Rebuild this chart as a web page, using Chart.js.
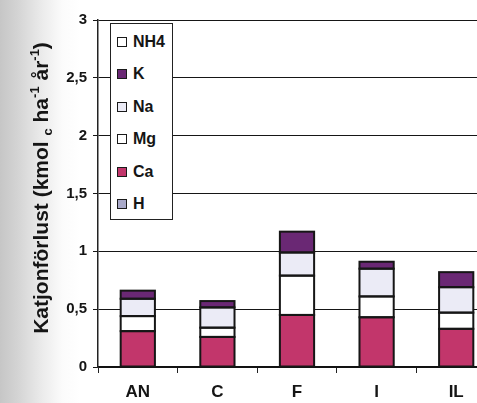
<!DOCTYPE html>
<html>
<head>
<meta charset="utf-8">
<script src="https://cdn.jsdelivr.net/npm/chart.js@4/dist/chart.umd.min.js"></script>
<style>
  html, body { margin: 0; padding: 0; }
  body {
    width: 477px; height: 403px; overflow: hidden; position: relative;
    background: linear-gradient(90deg, #c6c6c6 0px, #d4d4d4 18px, #ebebeb 42px, #fbfbfb 62px, #ffffff 80px);
    font-family: 'Liberation Sans', Arial, sans-serif;
  }
  #wrap { position: absolute; left: 0; top: 0; width: 500px; height: 403px; }
  #legend {
    position: absolute; left: 110px; top: 23px; width: 61px; height: 195px;
    border: 1px solid #222; background: #fff; box-sizing: content-box;
  }
  .item { position: absolute; left: 6px; height: 16px; display: flex; align-items: center;
          font-weight: bold; font-size: 16px; color: #151515; }
  .sw { width: 8px; height: 8px; border: 1.5px solid #1a1a1a; margin-right: 6px; }
</style>
</head>
<body>
<div id="wrap"><canvas id="c" width="500" height="403"></canvas></div>
<div id="legend"></div>
<script>
// ---- data ----
const categories = ['AN', 'C', 'F', 'I', 'IL'];
const seriesNames = ['H', 'Ca', 'Mg', 'Na', 'K', 'NH4']; // stacking order, bottom to top
const H   = [0, 0, 0, 0, 0];
const Ca  = [0.31, 0.26, 0.45, 0.43, 0.33];
const Mg  = [0.13, 0.08, 0.34, 0.18, 0.14];
const Na  = [0.15, 0.175, 0.20, 0.24, 0.22];
const K   = [0.07, 0.055, 0.18, 0.06, 0.13];
const NH4 = [0, 0, 0, 0, 0];
const yTicks = [0, 0.5, 1, 1.5, 2, 2.5, 3];

const seriesValues = { H, Ca, Mg, Na, K, NH4 };
const seriesColors = { H: '#a9a9c9', Ca: '#c2366b', Mg: '#ffffff', Na: '#ebebf6', K: '#6a2874', NH4: '#ffffff' };

const FONT = "'Liberation Sans', Arial, sans-serif";

const datasets = seriesNames.map(n => ({
  label: n,
  data: seriesValues[n],
  backgroundColor: seriesColors[n],
  borderColor: '#000000',
  borderWidth: 0,
  borderSkipped: false,
  inflateAmount: 0,
  categoryPercentage: 1.0,
  barPercentage: 0.43
}));

// outlines each bar segment, using the geometry of the library's bar elements
const outlinePlugin = {
  id: 'outline',
  afterDatasetsDraw(chart) {
    const ctx = chart.ctx;
    ctx.save();
    ctx.strokeStyle = '#161616';
    ctx.lineWidth = 2;
    chart.data.datasets.forEach((ds, di) => {
      const meta = chart.getDatasetMeta(di);
      meta.data.forEach(el => {
        const p = el.getProps(['x', 'y', 'base', 'width'], true);
        const h = Math.abs(p.base - p.y);
        if (h < 0.5) return;
        const top = Math.min(p.y, p.base);
        ctx.strokeRect(p.x - p.width / 2, top, p.width, h);
      });
    });
    ctx.restore();
  }
};

const titlePlugin = {
  id: 'ytitle',
  afterDraw(chart) {
    const ctx = chart.ctx;
    const parts = [
      { t: 'Katjonförlust (kmol ', k: 'n' },
      { t: 'c', k: 'sub' },
      { t: ' ha', k: 'n' },
      { t: '-1', k: 'sup' },
      { t: ' år', k: 'n' },
      { t: '-1', k: 'sup' },
      { t: ')', k: 'n' }
    ];
    const big = 'bold 21px ' + FONT, small = 'bold 13px ' + FONT;
    ctx.save();
    let total = 0;
    parts.forEach(p => { ctx.font = p.k === 'n' ? big : small; p.w = ctx.measureText(p.t).width; total += p.w; });
    ctx.translate(42, 188);
    ctx.rotate(-Math.PI / 2);
    ctx.fillStyle = '#151515';
    ctx.textBaseline = 'middle';
    ctx.textAlign = 'left';
    let x = -total / 2;
    parts.forEach(p => {
      ctx.font = p.k === 'n' ? big : small;
      const off = p.k === 'sub' ? 6 : (p.k === 'sup' ? -7 : 0);
      ctx.fillText(p.t, x, off);
      x += p.w;
    });
    ctx.restore();
  }
};

const chart = new Chart(document.getElementById('c'), {
  type: 'bar',
  data: { labels: categories, datasets },
  options: {
    responsive: false,
    animation: false,
    layout: { padding: { left: 0, right: 4, top: 20, bottom: 0 } },
    plugins: { legend: { display: false }, tooltip: { enabled: false } },
    scales: {
      x: {
        stacked: true,
        offset: true,
        grid: { display: true, drawOnChartArea: false, drawTicks: true, tickLength: 6, offset: true, color: '#222', lineWidth: 1 },
        border: { display: true, color: '#111', width: 1.5 },
        ticks: { font: { family: FONT, size: 17, weight: 'bold' }, color: '#151515', padding: 9 },
        afterFit(s) { s.height = 36; }
      },
      y: {
        stacked: true,
        min: 0, max: 3,
        afterBuildTicks(s) { s.ticks = yTicks.map(v => ({ value: v })); },
        ticks: {
          font: { family: FONT, size: 15, weight: 'bold' }, color: '#151515', padding: 6,
          callback: v => String(v).replace('.', ',')
        },
        grid: { color: '#161616', lineWidth: 1, tickLength: 5 },
        border: { display: true, color: '#222', width: 1.5 },
        afterFit(s) { s.width = 98; }
      }
    }
  },
  plugins: [outlinePlugin, titlePlugin]
});

// HTML legend (reverse of stacking order, as in the reference)
const lg = document.getElementById('legend');
seriesNames.slice().reverse().forEach((n, i) => {
  const d = document.createElement('div');
  d.className = 'item';
  d.style.top = (10 + i * 32.4) + 'px';
  const sw = document.createElement('span');
  sw.className = 'sw';
  sw.style.background = seriesColors[n];
  d.appendChild(sw);
  d.appendChild(document.createTextNode(n));
  lg.appendChild(d);
});
</script>
</body>
</html>
